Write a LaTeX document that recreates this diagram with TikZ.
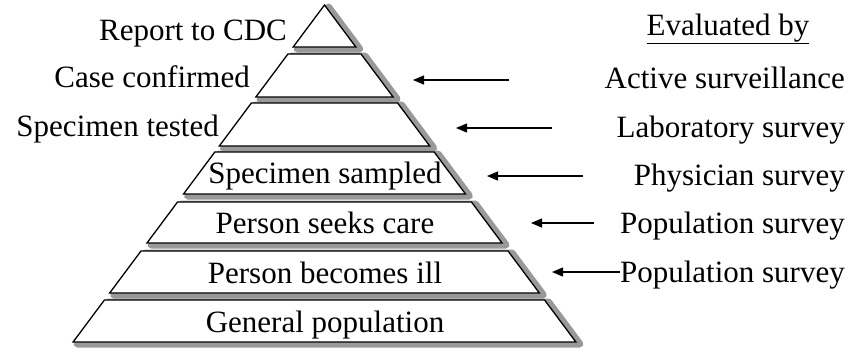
\documentclass[tikz,border=0pt]{standalone}
\usepackage{fontspec}
\setmainfont{Liberation Serif}
\usetikzlibrary{arrows.meta}
\definecolor{shadowc}{RGB}{153,153,153}
\tikzset{
  lbl/.style={inner sep=0pt, font=\fontsize{31}{37}\selectfont},
  layerline/.style={draw=black, fill=white, line width=1.3pt, line join=miter},
  shadowfill/.style={fill=shadowc, draw=shadowc, line width=7pt, line join=round},
  evalarrow/.style={draw=black, line width=1.3pt, -{Triangle[length=11pt,width=9pt]}}
}
\begin{document}
\begin{tikzpicture}[x=1pt,y=-1pt]
\useasboundingbox (0,0) rectangle (859,351);
\def\layers{5/47,54/97,103/146,152/194,202/243,251/293,300/342}
% shadows (offset 4 right, 2 down, widened)
\foreach \t/\b in \layers {
  \path[shadowfill]
    ({328.5-0.746*(\t-5)},{\t+2}) -- ({328.5+0.746*(\t-5)},{\t+2}) --
    ({328.5+0.746*(\b-5)},{\b+2}) -- ({328.5-0.746*(\b-5)},{\b+2}) -- cycle;
}
% layers
\foreach \t/\b in \layers {
  \path[layerline]
    ({324.5-0.746*(\t-5)},\t) -- ({324.5+0.746*(\t-5)},\t) --
    ({324.5+0.746*(\b-5)},\b) -- ({324.5-0.746*(\b-5)},\b) -- cycle;
}
% left labels
\node[lbl, anchor=base east] (rep) at (287,40) {Report to CDC};
\node[lbl, anchor=base east] (cas) at (250,87) {Case confirmed};
\node[lbl, anchor=base east] (spt) at (219,136) {Specimen tested};
% inner labels
\node[lbl, anchor=base] (sps) at (325,183.5) {Specimen sampled};
\node[lbl, anchor=base] (psc) at (325,233.5) {Person seeks care};
\node[lbl, anchor=base] (pbi) at (325,283) {Person becomes ill};
\node[lbl, anchor=base] (gen) at (325,332) {General population};
% right labels
\node[lbl, anchor=base] (evb) at (728,35) {\underline{Evaluated by}};
\node[lbl, anchor=base east] (act) at (845,88) {Active surveillance};
\node[lbl, anchor=base east] (lab) at (845,137) {Laboratory survey};
\node[lbl, anchor=base east] (phy) at (845,185) {Physician survey};
\node[lbl, anchor=base east] (pop1) at (845,233) {Population survey};
\node[lbl, anchor=base east] (pop2) at (845,282) {Population survey};
% arrow end points
\coordinate (a1t) at (509,80);  \coordinate (a1h) at (413,80);
\coordinate (a2t) at (552,128); \coordinate (a2h) at (456,128);
\coordinate (a3t) at (583,176); \coordinate (a3h) at (487,176);
\coordinate (a4t) at (594,223); \coordinate (a4h) at (531,223);
\coordinate (a5h) at (552,272);
\draw[evalarrow] (a1t) -- (a1h);
\draw[evalarrow] (a2t) -- (a2h);
\draw[evalarrow] (a3t) -- (a3h);
\draw[evalarrow] (a4t) -- (a4h);
\draw[evalarrow] (pop2.west |- a5h) -- (a5h);
\end{tikzpicture}
\end{document}
